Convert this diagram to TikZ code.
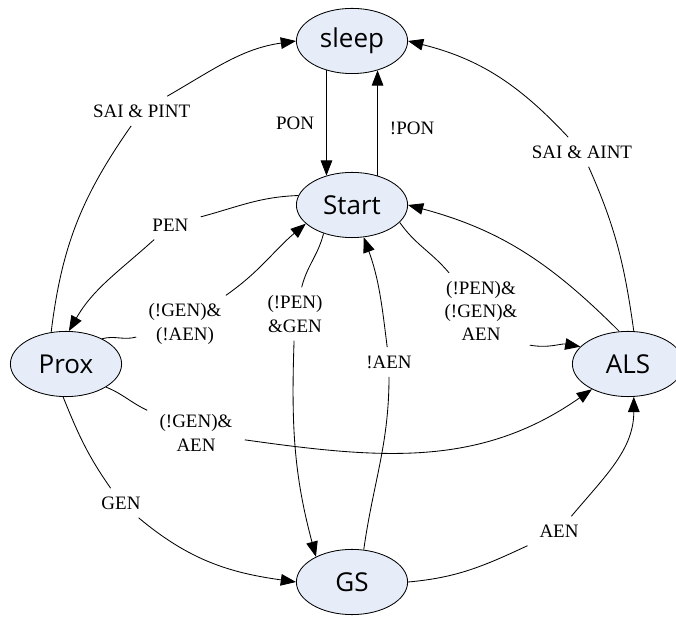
\documentclass[tikz,border=0pt]{standalone}
\usepackage{fontspec}
\setmainfont{Liberation Serif}
\setsansfont{Open Sans}
\usetikzlibrary{shapes.geometric, arrows.meta}
\definecolor{statefill}{RGB}{230,237,248}

\begin{document}
\begin{tikzpicture}[
    state/.style={shape=ellipse, draw=black, fill=statefill, minimum width=2.78cm, minimum height=1.63cm, inner sep=0pt, font=\sffamily\fontsize{18.5}{22}\selectfont},
    cond/.style={inner xsep=0.3cm, inner ysep=0.2cm, align=center, font=\fontsize{13.5}{16.5}\selectfont},
    >={Triangle[length=0.38cm, width=0.29cm]}, line width=0.6pt
]
    \useasboundingbox (0,0) rectangle (16.9,15.425);

    % Define nodes
    \node[state] (sleep) at (8.8,14.4) {sleep};
    \node[state] (start) at (8.8,10.3) {Start};
    \node[state] (prox) at (1.65,6.325) {Prox};
    \node[state] (als) at (15.7,6.325) {ALS};
    \node[state] (gs) at (8.8,0.875) {GS};

    % Define conditions
    \node[cond] (sai1) at (3.54,12.65) {SAI \& PINT};
    \node[cond] (sai2) at (14.55,11.625) {SAI \& AINT};
    \node[cond] (pen) at (4.26,9.8) {PEN};
    \node[cond] (ga) at (4.625,7.325) {(!GEN)\&\\(!AEN)};
    \node[cond] (pg) at (7.375,7.575) {(!PEN)\\\&GEN};
    \node[cond] (naen) at (9.725,6.375) {!AEN};
    \node[cond] (pga) at (12.025,7.65) {(!PEN)\&\\(!GEN)\&\\AEN};
    \node[cond] (ga2) at (4.9,4.6) {(!GEN)\&\\AEN};
    \node[cond] (gen) at (3.025,2.85) {GEN};
    \node[cond] (aen2) at (13.975,2.15) {AEN};

    % Draw edges
    \draw[->] (sleep.229) -- node[cond, left] {PON} (start.131);
    \draw[->] (start.49) -- node[cond, right, pos=0.45] {!PON} (sleep.311);

    \draw (prox.115) to[out=83, in=235] (sai1);
    \draw[->] (sai1) to[out=30, in=188] (sleep.west);

    \draw (als.80) to[out=98, in=294] (sai2);
    \draw[->] (sai2) to[out=133, in=-14] (sleep.east);

    \draw (start.170) to[out=182, in=15] (pen);
    \draw[->] (pen) to[out=222, in=60] (prox.85);

    \draw (prox.35) to[out=15, in=195] (ga);
    \draw[->] (ga) to[out=35, in=220] (start.202);

    \draw (start.225) to[out=256, in=76] (pg);
    \draw[->] (pg) to[out=268, in=105] (gs.145);

    \draw (gs.70) to[out=82, in=270] (naen);
    \draw[->] (naen) to[out=97, in=290] (start);

    \draw (start.-20) to[out=-55, in=130] (pga);
    \draw[->] (pga.-35) to[out=-10, in=170] (als.160);

    \draw[->] (als.105) to[out=135, in=-15] (start.east);

    \draw (prox.-30) to[out=-22, in=155] (ga2);
    \draw[->] (ga2) to[out=-8, in=215] (als.215);

    \draw (prox.-95) to[out=-68, in=125] (gen);
    \draw[->] (gen) to[out=-40, in=172] (gs.west);

    \draw (gs.east) to[out=5, in=205] (aen2);
    \draw[->] (aen2) to[out=50, in=-90] (als.-80);

\end{tikzpicture}
\end{document}
